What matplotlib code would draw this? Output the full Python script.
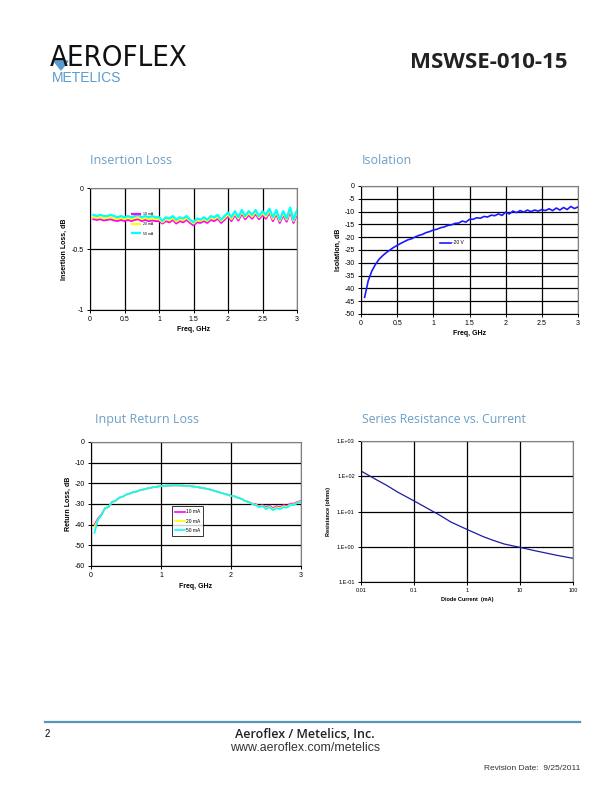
import numpy as np
import matplotlib
matplotlib.use('Agg')
from matplotlib import pyplot as plt
from matplotlib.lines import Line2D
from matplotlib.patches import Polygon

plt.rcParams['font.family'] = ['Liberation Sans', 'DejaVu Sans']
plt.rcParams['axes.unicode_minus'] = False

# ---- data ----
freq = [0.05, 0.10, 0.15, 0.20, 0.25, 0.30, 0.35, 0.40, 0.45, 0.50,
        0.55, 0.60, 0.65, 0.70, 0.75, 0.80, 0.85, 0.90, 0.95, 1.00,
        1.05, 1.10, 1.15, 1.20, 1.25, 1.30, 1.35, 1.40, 1.45, 1.50,
        1.55, 1.60, 1.65, 1.70, 1.75, 1.80, 1.85, 1.90, 1.95, 2.00,
        2.05, 2.10, 2.15, 2.20, 2.25, 2.30, 2.35, 2.40, 2.45, 2.50,
        2.55, 2.60, 2.65, 2.70, 2.75, 2.80, 2.85, 2.90, 2.95, 3.00]

il_labels = ['10 mA', '20 mA', '50 mA']
il_mag = [-0.255, -0.26, -0.255, -0.265, -0.26, -0.255, -0.265, -0.27, -0.26, -0.27,
          -0.26, -0.27, -0.26, -0.255, -0.27, -0.26, -0.27, -0.265, -0.27, -0.27,
          -0.29, -0.27, -0.28, -0.26, -0.29, -0.27, -0.28, -0.26, -0.285, -0.305,
          -0.28, -0.285, -0.27, -0.285, -0.26, -0.27, -0.25, -0.285, -0.26, -0.23,
          -0.27, -0.22, -0.265, -0.21, -0.255, -0.22, -0.25, -0.21, -0.255, -0.22,
          -0.25, -0.20, -0.27, -0.21, -0.285, -0.22, -0.275, -0.19, -0.285, -0.21]
il_yel = [-0.24, -0.245, -0.24, -0.25, -0.245, -0.24, -0.25, -0.255, -0.245, -0.255,
          -0.245, -0.255, -0.245, -0.24, -0.255, -0.245, -0.255, -0.25, -0.255, -0.255,
          -0.28, -0.255, -0.265, -0.245, -0.275, -0.255, -0.265, -0.245, -0.27, -0.29,
          -0.265, -0.27, -0.255, -0.27, -0.245, -0.255, -0.235, -0.27, -0.245, -0.215,
          -0.255, -0.205, -0.25, -0.195, -0.24, -0.205, -0.235, -0.195, -0.24, -0.205,
          -0.235, -0.185, -0.255, -0.195, -0.27, -0.205, -0.26, -0.175, -0.27, -0.195]
il_cyan = [-0.22, -0.23, -0.22, -0.23, -0.23, -0.22, -0.23, -0.24, -0.23, -0.24,
           -0.23, -0.24, -0.23, -0.22, -0.24, -0.23, -0.24, -0.23, -0.24, -0.24,
           -0.27, -0.24, -0.25, -0.23, -0.26, -0.24, -0.25, -0.23, -0.26, -0.28,
           -0.25, -0.26, -0.24, -0.26, -0.23, -0.24, -0.22, -0.26, -0.23, -0.20,
           -0.24, -0.19, -0.24, -0.18, -0.23, -0.19, -0.22, -0.18, -0.23, -0.19,
           -0.22, -0.17, -0.24, -0.18, -0.26, -0.19, -0.25, -0.16, -0.26, -0.18]

iso_label = '-20 V'
iso = [-43.5, -37.0, -33.2, -30.6, -28.6, -27.2, -26.0, -25.0, -24.0, -23.2,
       -22.4, -21.7, -21.0, -20.6, -19.9, -19.3, -18.9, -18.2, -17.8, -17.2,
       -16.9, -16.3, -16.0, -15.4, -15.2, -14.6, -14.5, -13.7, -14.1, -13.0,
       -13.0, -12.4, -12.6, -11.9, -12.1, -11.4, -11.6, -10.9, -11.5, -10.2,
       -10.9, -9.8, -10.4, -9.6, -10.2, -9.4, -10.0, -9.4, -9.8, -9.2,
       -9.6, -8.9, -9.6, -8.6, -9.4, -8.4, -9.2, -8.0, -8.8, -8.2]

rl_labels = ['10 mA', '20 mA', '50 mA']
rl_mag = [-40.0, -37.0, -35.0, -32.0, -31.5, -29.0, -28.5, -27.0, -26.5, -25.5,
          -25.0, -24.3, -24.0, -23.3, -23.0, -22.5, -22.2, -21.8, -21.6, -21.3,
          -21.2, -21.1, -21.0, -21.0, -21.0, -21.1, -21.2, -21.3, -21.5, -21.7,
          -22.0, -22.3, -22.6, -23.0, -23.5, -24.0, -24.5, -25.0, -25.5, -26.0,
          -26.3, -27.0, -27.5, -28.5, -29.0, -29.8, -30.0, -31.0, -30.5, -31.5,
          -30.8, -32.0, -31.0, -31.5, -30.5, -30.8, -29.8, -29.8, -29.0, -28.5]
rl_yel = [-41.0, -37.5, -35.3, -32.0, -31.5, -29.0, -28.5, -27.0, -26.5, -25.5,
          -25.0, -24.3, -24.0, -23.3, -23.0, -22.5, -22.2, -21.8, -21.6, -21.3,
          -21.2, -21.1, -21.0, -21.0, -21.0, -21.1, -21.2, -21.3, -21.5, -21.7,
          -22.0, -22.3, -22.6, -23.0, -23.5, -24.0, -24.5, -25.0, -25.5, -26.0,
          -26.3, -27.0, -27.5, -28.5, -29.0, -29.9, -30.3, -31.2, -30.8, -32.0,
          -31.2, -32.5, -31.5, -32.0, -31.0, -31.3, -30.2, -30.2, -29.3, -28.8]
rl_cyan = [-44.0, -37.5, -35.5, -32.0, -31.5, -29.0, -28.5, -27.0, -26.5, -25.5,
           -25.0, -24.3, -24.0, -23.3, -23.0, -22.5, -22.2, -21.8, -21.6, -21.3,
           -21.2, -21.1, -21.0, -21.0, -21.0, -21.1, -21.2, -21.3, -21.5, -21.7,
           -22.0, -22.3, -22.6, -23.0, -23.5, -24.0, -24.5, -25.0, -25.5, -26.0,
           -26.3, -27.0, -27.5, -28.5, -29.0, -30.0, -30.5, -31.5, -31.0, -32.5,
           -31.5, -33.0, -32.0, -32.5, -31.5, -31.8, -30.5, -30.5, -29.5, -29.0]

current = [0.01, 0.02, 0.03, 0.05, 0.1, 0.2, 0.3, 0.5, 1, 2, 3, 5, 10, 20, 30, 50, 100]
resistance = [141, 78, 56, 35, 20, 11.2, 8.0, 5.0, 3.1, 1.95, 1.55, 1.2, 0.96,
              0.76, 0.67, 0.57, 0.47]

W, H = 612, 792
fig = plt.figure(figsize=(6.12, 7.92), dpi=100)
blue_title = '#6c9fc6'


def px(x, y):
    return x / W, 1 - y / H


def make_axes(x0, y0, x1, y1):
    ax = fig.add_axes([x0 / W, 1 - y1 / H, (x1 - x0) / W, (y1 - y0) / H])
    ax.grid(True, color='black', linewidth=0.9)
    ax.set_axisbelow(True)
    for s in ['top', 'right']:
        ax.spines[s].set_color('#808080')
    ax.tick_params(labelsize=5, length=2.5, width=0.7, pad=2)
    for s in ax.spines.values():
        s.set_linewidth(0.8)
    return ax


# ---- header ----
fig.text(*px(50, 58), 'AEROFLEX', fontsize=21, fontstretch='condensed',
         color='#111111', va='center', ha='left', family='Liberation Sans Narrow')
fig.text(*px(52, 78), 'METELICS', fontsize=10, color='#5b9cd0', va='center', ha='left')
fig.patches.append(Polygon([px(54, 61), px(68, 61), px(61, 70)], closed=True,
                           transform=fig.transFigure, color='#5b9cd0'))
fig.text(*px(567, 62), 'MSWSE-010-15', fontsize=16, fontweight='bold',
         color='#222222', va='center', ha='right', family='Open Sans')

# ---- titles ----
fig.text(*px(90, 161), 'Insertion Loss', fontsize=9, color=blue_title, va='center', family='Open Sans')
fig.text(*px(362, 161), 'Isolation', fontsize=9, color=blue_title, va='center', family='Open Sans')
fig.text(*px(95, 419), 'Input Return Loss', fontsize=9, color=blue_title, va='center', family='Open Sans')
fig.text(*px(362, 419), 'Series Resistance vs. Current', fontsize=8.8, color=blue_title, va='center', family='Open Sans')

# ---- insertion loss ----
ax = make_axes(90, 188, 297, 310)
ax.plot(freq, il_mag, color='#ff00ff', lw=1.6, label=il_labels[0])
ax.plot(freq, il_yel, color='#ffff00', lw=1.6, label=il_labels[1])
ax.plot(freq, il_cyan, color='#00ffff', lw=1.6, label=il_labels[2])
ax.set_xlim(0, 3)
ax.set_ylim(-1, 0)
ax.set_xticks([0, 0.5, 1, 1.5, 2, 2.5, 3])
ax.set_xticklabels(['0', '0.5', '1', '1.5', '2', '2.5', '3'])
ax.set_yticks([-1, -0.5, 0])
ax.set_yticklabels(['-1', '-0.5', '0'])
ax.set_xlabel('Freq, GHz', fontsize=5, fontweight='bold', labelpad=2)
ax.set_ylabel('Insertion Loss, dB', fontsize=5, fontweight='bold', labelpad=3)
ax.legend(loc='upper left', bbox_to_anchor=(0.19, 0.82), frameon=False, fontsize=2.5,
          handlelength=2.5, labelspacing=1.6, borderpad=0.2)

# ---- isolation ----
ax = make_axes(361, 186, 578, 314)
ax.plot(freq, iso, color='#1a1aff', lw=1.2, label=iso_label)
ax.set_xlim(0, 3)
ax.set_ylim(-50, 0)
ax.set_xticks([0, 0.5, 1, 1.5, 2, 2.5, 3])
ax.set_xticklabels(['0', '0.5', '1', '1.5', '2', '2.5', '3'])
ax.set_yticks(np.arange(-50, 1, 5))
ax.set_xlabel('Freq, GHz', fontsize=5, fontweight='bold', labelpad=2)
ax.set_ylabel('Isolation, dB', fontsize=5, fontweight='bold', labelpad=2)
ax.legend(loc='center left', bbox_to_anchor=(0.35, 0.555), frameon=False, fontsize=3.5,
          handlelength=2.2, borderpad=0.1, handletextpad=0.3)

# ---- input return loss ----
ax = make_axes(91, 442, 301, 566)
ax.plot(freq, rl_mag, color='#ff00ff', lw=1.2, label=rl_labels[0])
ax.plot(freq, rl_yel, color='#ffff00', lw=1.2, label=rl_labels[1])
ax.plot(freq, rl_cyan, color='#00ffff', lw=1.2, label=rl_labels[2])
ax.set_xlim(0, 3)
ax.set_ylim(-60, 0)
ax.set_xticks([0, 1, 2, 3])
ax.set_yticks(np.arange(-60, 1, 10))
ax.set_xlabel('Freq, GHz', fontsize=5, fontweight='bold', labelpad=3)
ax.set_ylabel('Return Loss, dB', fontsize=5, fontweight='bold', labelpad=2)
leg = ax.legend(loc='upper left', bbox_to_anchor=(0.375, 0.50), frameon=True, fancybox=False,
                fontsize=3.5, handlelength=2.0, borderpad=0.6, labelspacing=0.9,
                handletextpad=0.3)
leg.get_frame().set_edgecolor('black')
leg.get_frame().set_linewidth(0.7)

# ---- series resistance ----
ax = make_axes(361, 441, 573, 582)
ax.plot(current, resistance, color='#1c1ca0', lw=0.9)
ax.set_xscale('log')
ax.set_yscale('log')
ax.set_xlim(0.01, 100)
ax.set_ylim(0.1, 1000)
ax.set_xticks([0.01, 0.1, 1, 10, 100])
ax.set_xticklabels(['0.01', '0.1', '1', '10', '100'])
ax.set_yticks([0.1, 1, 10, 100, 1000])
ax.set_yticklabels(['1.E-01', '1.E+00', '1.E+01', '1.E+02', '1.E+03'])
ax.minorticks_off()
ax.tick_params(labelsize=4)
ax.set_xlabel('Diode Current  (mA)', fontsize=4, fontweight='bold', labelpad=3)
ax.set_ylabel('Resistance (ohms)', fontsize=4, fontweight='bold', labelpad=4)

# ---- footer ----
fig.lines.append(Line2D([45 / W, 580 / W], [1 - 722 / H, 1 - 722 / H], transform=fig.transFigure,
                        color='#5b93bf', lw=1.6))
fig.text(*px(45, 734), '2', fontsize=7, va='center', ha='left')
fig.text(*px(305, 734), 'Aeroflex / Metelics, Inc.', fontsize=9, fontweight='semibold',
         va='center', ha='center', family='Open Sans', color='#222222')
fig.text(*px(305, 748), 'www.aeroflex.com/metelics', fontsize=8.9, va='center', ha='center',
         color='#333333')
fig.text(*px(580, 768), 'Revision Date:  9/25/2011', fontsize=6, va='center', ha='right',
         color='#333333')

fig.savefig('out.png', dpi=100)
